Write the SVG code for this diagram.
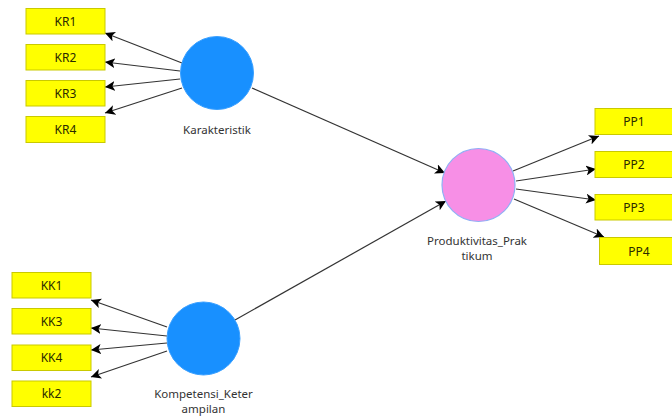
<svg xmlns="http://www.w3.org/2000/svg" width="672" height="416" viewBox="0 0 672 416">
<defs>
<style>
.ind rect{fill:#ffff00;stroke:#c9c900;stroke-width:1}
.ind text{font-family:"Noto Sans","Open Sans",sans-serif;font-size:12px;fill:#2a2a00;text-anchor:middle}
.lat text{font-family:"Noto Sans","Open Sans",sans-serif;font-size:11.5px;fill:#333;text-anchor:middle}
.blue{fill:#1890ff;stroke:#3aa0ff;stroke-width:1}
.pink{fill:#f78fe6;stroke:#8fb0f5;stroke-width:1.2}
.conn line{stroke:#333;stroke-width:1.2;marker-end:url(#ah)}
</style>
<marker id="ah" viewBox="0 0 10 10" refX="10" refY="5" markerWidth="10" markerHeight="10" markerUnits="userSpaceOnUse" orient="auto">
<path d="M0,0 L10,5 L0,10 L2.5,5 Z" fill="#000"/>
</marker>
</defs>
<rect width="672" height="416" fill="#fff"/>
<g id="connectors" class="conn">
<line x1="182" y1="63" x2="105" y2="33"/>
<line x1="180" y1="71" x2="105" y2="62"/>
<line x1="180" y1="79" x2="105" y2="87"/>
<line x1="182" y1="88" x2="105" y2="113"/>
<line x1="167" y1="327" x2="91" y2="300"/>
<line x1="167" y1="336" x2="91" y2="328"/>
<line x1="167" y1="343" x2="91" y2="350"/>
<line x1="167" y1="351" x2="91" y2="377"/>
<line x1="252" y1="88" x2="445" y2="173"/>
<line x1="235" y1="320" x2="446" y2="201"/>
<line x1="513" y1="171" x2="599" y2="136"/>
<line x1="516" y1="181" x2="596" y2="169"/>
<line x1="516" y1="189" x2="596" y2="200"/>
<line x1="514" y1="199" x2="604" y2="237"/>
</g>
<g id="KR1" class="ind"><rect x="26" y="8.5" width="79" height="25.5"/><text x="65.5" y="25.5">KR1</text></g>
<g id="KR2" class="ind"><rect x="26" y="44.5" width="79" height="25.5"/><text x="65.5" y="61.5">KR2</text></g>
<g id="KR3" class="ind"><rect x="26" y="80.5" width="79" height="25.5"/><text x="65.5" y="97.5">KR3</text></g>
<g id="KR4" class="ind"><rect x="26" y="116.5" width="79" height="26"/><text x="65.5" y="134">KR4</text></g>
<g id="KK1" class="ind"><rect x="12" y="272.5" width="79" height="25.5"/><text x="51.5" y="289.5">KK1</text></g>
<g id="KK3" class="ind"><rect x="12" y="308.5" width="79" height="25.5"/><text x="51.5" y="325.5">KK3</text></g>
<g id="KK4" class="ind"><rect x="12" y="345" width="79" height="25.5"/><text x="51.5" y="362">KK4</text></g>
<g id="kk2" class="ind"><rect x="12" y="381" width="79" height="25.5"/><text x="51.5" y="398">kk2</text></g>
<g id="PP1" class="ind"><rect x="595" y="108.5" width="79" height="26"/><text x="634" y="126">PP1</text></g>
<g id="PP2" class="ind"><rect x="595" y="151.5" width="79" height="26"/><text x="634" y="169">PP2</text></g>
<g id="PP3" class="ind"><rect x="595" y="194.5" width="79" height="25.5"/><text x="634" y="211.5">PP3</text></g>
<g id="PP4" class="ind"><rect x="599.5" y="237.5" width="79" height="27"/><text x="639" y="255.5">PP4</text></g>
<g id="Karakteristik" class="lat"><circle class="blue" cx="217" cy="73" r="36.5"/><text x="217" y="134">Karakteristik</text></g>
<g id="Kompetensi_Keterampilan" class="lat"><circle class="blue" cx="203.5" cy="338.5" r="36.5"/><text x="203.5" y="398">Kompetensi_Keter</text><text x="203.5" y="413">ampilan</text></g>
<g id="Produktivitas_Praktikum" class="lat"><circle class="pink" cx="478.5" cy="185" r="36.5"/><text x="477" y="245">Produktivitas_Prak</text><text x="477" y="260">tikum</text></g>
</svg>
